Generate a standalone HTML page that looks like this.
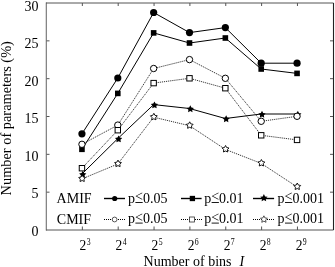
<!DOCTYPE html>
<html><head><meta charset="utf-8"><style>
html,body{margin:0;padding:0;background:#fff;}
body{width:335px;height:267px;overflow:hidden;font-family:"Liberation Serif",serif;}
svg{display:block;will-change:transform;}
</style></head><body>
<svg width="335" height="267" viewBox="0 0 335 267">
<rect width="335" height="267" fill="#fff"/>
<rect x="45" y="2.5" width="1" height="228" fill="#dadada"/><rect x="46" y="2.5" width="1" height="228" fill="#858585"/><line x1="46" y1="3" x2="333.5" y2="3" stroke="#555" stroke-width="1"/><line x1="46" y1="230" x2="333.5" y2="230" stroke="#555" stroke-width="1"/><line x1="333.5" y1="3" x2="333.5" y2="230" stroke="#222" stroke-width="1.1"/><line x1="46.5" y1="192.17" x2="49.5" y2="192.17" stroke="#555" stroke-width="1"/><line x1="330" y1="192.17" x2="333" y2="192.17" stroke="#555" stroke-width="1"/><line x1="46.5" y1="154.34" x2="49.5" y2="154.34" stroke="#555" stroke-width="1"/><line x1="330" y1="154.34" x2="333" y2="154.34" stroke="#555" stroke-width="1"/><line x1="46.5" y1="116.51" x2="49.5" y2="116.51" stroke="#555" stroke-width="1"/><line x1="330" y1="116.51" x2="333" y2="116.51" stroke="#555" stroke-width="1"/><line x1="46.5" y1="78.68" x2="49.5" y2="78.68" stroke="#555" stroke-width="1"/><line x1="330" y1="78.68" x2="333" y2="78.68" stroke="#555" stroke-width="1"/><line x1="46.5" y1="40.85" x2="49.5" y2="40.85" stroke="#555" stroke-width="1"/><line x1="330" y1="40.85" x2="333" y2="40.85" stroke="#555" stroke-width="1"/><line x1="82.35" y1="230" x2="82.35" y2="226.5" stroke="#555" stroke-width="1"/><line x1="82.35" y1="3" x2="82.35" y2="6" stroke="#555" stroke-width="1"/><line x1="118.20" y1="230" x2="118.20" y2="226.5" stroke="#555" stroke-width="1"/><line x1="118.20" y1="3" x2="118.20" y2="6" stroke="#555" stroke-width="1"/><line x1="154.05" y1="230" x2="154.05" y2="226.5" stroke="#555" stroke-width="1"/><line x1="154.05" y1="3" x2="154.05" y2="6" stroke="#555" stroke-width="1"/><line x1="189.90" y1="230" x2="189.90" y2="226.5" stroke="#555" stroke-width="1"/><line x1="189.90" y1="3" x2="189.90" y2="6" stroke="#555" stroke-width="1"/><line x1="225.75" y1="230" x2="225.75" y2="226.5" stroke="#555" stroke-width="1"/><line x1="225.75" y1="3" x2="225.75" y2="6" stroke="#555" stroke-width="1"/><line x1="261.60" y1="230" x2="261.60" y2="226.5" stroke="#555" stroke-width="1"/><line x1="261.60" y1="3" x2="261.60" y2="6" stroke="#555" stroke-width="1"/><line x1="297.45" y1="230" x2="297.45" y2="226.5" stroke="#555" stroke-width="1"/><line x1="297.45" y1="3" x2="297.45" y2="6" stroke="#555" stroke-width="1"/><polyline points="81.95,133.80 117.80,78.00 153.65,12.50 189.50,32.60 225.35,27.60 261.20,63.20 297.05,63.20" fill="none" stroke="#000" stroke-width="1.0"/><circle cx="81.95" cy="133.80" r="3.60" fill="#000"/><circle cx="117.80" cy="78.00" r="3.60" fill="#000"/><circle cx="153.65" cy="12.50" r="3.60" fill="#000"/><circle cx="189.50" cy="32.60" r="3.60" fill="#000"/><circle cx="225.35" cy="27.60" r="3.60" fill="#000"/><circle cx="261.20" cy="63.20" r="3.60" fill="#000"/><circle cx="297.05" cy="63.20" r="3.60" fill="#000"/><polyline points="81.95,149.30 117.80,93.40 153.65,32.90 189.50,43.00 225.35,38.00 261.20,69.00 297.05,73.40" fill="none" stroke="#000" stroke-width="1.0"/><rect x="79.15" y="146.50" width="5.60" height="5.60" fill="#000"/><rect x="115.00" y="90.60" width="5.60" height="5.60" fill="#000"/><rect x="150.85" y="30.10" width="5.60" height="5.60" fill="#000"/><rect x="186.70" y="40.20" width="5.60" height="5.60" fill="#000"/><rect x="222.55" y="35.20" width="5.60" height="5.60" fill="#000"/><rect x="258.40" y="66.20" width="5.60" height="5.60" fill="#000"/><rect x="294.25" y="70.60" width="5.60" height="5.60" fill="#000"/><polyline points="81.95,174.00 117.80,138.60 153.65,104.60 189.50,108.50 225.35,118.50 261.20,114.00 297.05,114.00" fill="none" stroke="#000" stroke-width="1.0"/><polygon points="82.75,170.80 83.90,173.02 86.36,173.43 84.60,175.20 84.98,177.67 82.75,176.55 80.52,177.67 80.90,175.20 79.14,173.43 81.60,173.02" fill="#000"/><polygon points="118.60,135.40 119.75,137.62 122.21,138.03 120.45,139.80 120.83,142.27 118.60,141.15 116.37,142.27 116.75,139.80 114.99,138.03 117.45,137.62" fill="#000"/><polygon points="154.45,101.40 155.60,103.62 158.06,104.03 156.30,105.80 156.68,108.27 154.45,107.15 152.22,108.27 152.60,105.80 150.84,104.03 153.30,103.62" fill="#000"/><polygon points="190.30,105.30 191.45,107.52 193.91,107.93 192.15,109.70 192.53,112.17 190.30,111.05 188.07,112.17 188.45,109.70 186.69,107.93 189.15,107.52" fill="#000"/><polygon points="226.15,115.30 227.30,117.52 229.76,117.93 228.00,119.70 228.38,122.17 226.15,121.05 223.92,122.17 224.30,119.70 222.54,117.93 225.00,117.52" fill="#000"/><polygon points="262.00,110.80 263.15,113.02 265.61,113.43 263.85,115.20 264.23,117.67 262.00,116.55 259.77,117.67 260.15,115.20 258.39,113.43 260.85,113.02" fill="#000"/><polygon points="297.85,110.80 299.00,113.02 301.46,113.43 299.70,115.20 300.08,117.67 297.85,116.55 295.62,117.67 296.00,115.20 294.24,113.43 296.70,113.02" fill="#000"/><polyline points="81.95,144.30 117.80,125.10 153.65,68.50 189.50,59.60 225.35,78.30 261.20,121.30 297.05,116.30" fill="none" stroke="#222" stroke-width="0.9" stroke-dasharray="1.2 0.9"/><circle cx="81.95" cy="144.30" r="3.20" fill="#fff" stroke="#000" stroke-width="1"/><circle cx="117.80" cy="125.10" r="3.20" fill="#fff" stroke="#000" stroke-width="1"/><circle cx="153.65" cy="68.50" r="3.20" fill="#fff" stroke="#000" stroke-width="1"/><circle cx="189.50" cy="59.60" r="3.20" fill="#fff" stroke="#000" stroke-width="1"/><circle cx="225.35" cy="78.30" r="3.20" fill="#fff" stroke="#000" stroke-width="1"/><circle cx="261.20" cy="121.30" r="3.20" fill="#fff" stroke="#000" stroke-width="1"/><circle cx="297.05" cy="116.30" r="3.20" fill="#fff" stroke="#000" stroke-width="1"/><polyline points="81.95,168.20 117.80,130.20 153.65,83.10 189.50,78.30 225.35,88.20 261.20,135.30 297.05,139.90" fill="none" stroke="#222" stroke-width="0.9" stroke-dasharray="1.2 0.9"/><rect x="79.25" y="165.50" width="5.40" height="5.40" fill="#fff" stroke="#000" stroke-width="1"/><rect x="115.10" y="127.50" width="5.40" height="5.40" fill="#fff" stroke="#000" stroke-width="1"/><rect x="150.95" y="80.40" width="5.40" height="5.40" fill="#fff" stroke="#000" stroke-width="1"/><rect x="186.80" y="75.60" width="5.40" height="5.40" fill="#fff" stroke="#000" stroke-width="1"/><rect x="222.65" y="85.50" width="5.40" height="5.40" fill="#fff" stroke="#000" stroke-width="1"/><rect x="258.50" y="132.60" width="5.40" height="5.40" fill="#fff" stroke="#000" stroke-width="1"/><rect x="294.35" y="137.20" width="5.40" height="5.40" fill="#fff" stroke="#000" stroke-width="1"/><polyline points="81.95,178.90 117.80,164.00 153.65,117.20 189.50,125.70 225.35,149.40 261.20,163.40 297.05,186.90" fill="none" stroke="#222" stroke-width="0.9" stroke-dasharray="1.2 0.9"/><polygon points="82.15,175.00 83.27,177.06 85.57,177.49 83.96,179.19 84.27,181.51 82.15,180.50 80.03,181.51 80.34,179.19 78.73,177.49 81.03,177.06" fill="#fff" stroke="#000" stroke-width="0.9"/><polygon points="118.00,160.10 119.12,162.16 121.42,162.59 119.81,164.29 120.12,166.61 118.00,165.60 115.88,166.61 116.19,164.29 114.58,162.59 116.88,162.16" fill="#fff" stroke="#000" stroke-width="0.9"/><polygon points="153.85,113.30 154.97,115.36 157.27,115.79 155.66,117.49 155.97,119.81 153.85,118.80 151.73,119.81 152.04,117.49 150.43,115.79 152.73,115.36" fill="#fff" stroke="#000" stroke-width="0.9"/><polygon points="189.70,121.80 190.82,123.86 193.12,124.29 191.51,125.99 191.82,128.31 189.70,127.30 187.58,128.31 187.89,125.99 186.28,124.29 188.58,123.86" fill="#fff" stroke="#000" stroke-width="0.9"/><polygon points="225.55,145.50 226.67,147.56 228.97,147.99 227.36,149.69 227.67,152.01 225.55,151.00 223.43,152.01 223.74,149.69 222.13,147.99 224.43,147.56" fill="#fff" stroke="#000" stroke-width="0.9"/><polygon points="261.40,159.50 262.52,161.56 264.82,161.99 263.21,163.69 263.52,166.01 261.40,165.00 259.28,166.01 259.59,163.69 257.98,161.99 260.28,161.56" fill="#fff" stroke="#000" stroke-width="0.9"/><polygon points="297.25,183.00 298.37,185.06 300.67,185.49 299.06,187.19 299.37,189.51 297.25,188.50 295.13,189.51 295.44,187.19 293.83,185.49 296.13,185.06" fill="#fff" stroke="#000" stroke-width="0.9"/><line x1="104" y1="198.5" x2="125" y2="198.5" stroke="#000" stroke-width="1.4"/><circle cx="114.70" cy="198.50" r="2.6" fill="#000"/><line x1="181" y1="198.5" x2="201.6" y2="198.5" stroke="#000" stroke-width="1.4"/><rect x="189.75" y="195.85" width="5.30" height="5.30" fill="#000"/><line x1="253" y1="198.5" x2="274.1" y2="198.5" stroke="#000" stroke-width="1.4"/><polygon points="263.90,194.10 265.05,196.42 267.61,196.79 265.75,198.60 266.19,201.16 263.90,199.95 261.61,201.16 262.05,198.60 260.19,196.79 262.75,196.42" fill="#000"/><line x1="104" y1="219.5" x2="125" y2="219.5" stroke="#000" stroke-width="1" stroke-dasharray="1 1"/><circle cx="114.60" cy="219.50" r="2.4" fill="#fff" stroke="#222" stroke-width="0.75"/><line x1="181" y1="219.5" x2="202" y2="219.5" stroke="#000" stroke-width="1" stroke-dasharray="1 1"/><rect x="189.40" y="217.00" width="5.00" height="5.00" fill="#fff" stroke="#222" stroke-width="0.75"/><line x1="253" y1="219.5" x2="274" y2="219.5" stroke="#000" stroke-width="1" stroke-dasharray="1 1"/><polygon points="263.90,215.80 264.96,217.94 267.32,218.29 265.61,219.96 266.02,222.31 263.90,221.20 261.78,222.31 262.19,219.96 260.48,218.29 262.84,217.94" fill="#fff" stroke="#222" stroke-width="0.75"/><line x1="135.40" y1="202.50" x2="142.70" y2="202.50" stroke="#000" stroke-width="0.9"/><line x1="135.40" y1="223.10" x2="142.70" y2="223.10" stroke="#000" stroke-width="0.9"/><line x1="211.60" y1="202.50" x2="218.90" y2="202.50" stroke="#000" stroke-width="0.9"/><line x1="211.60" y1="223.10" x2="218.90" y2="223.10" stroke="#000" stroke-width="0.9"/><line x1="285.00" y1="202.50" x2="292.30" y2="202.50" stroke="#000" stroke-width="0.9"/><line x1="285.00" y1="223.10" x2="292.30" y2="223.10" stroke="#000" stroke-width="0.9"/>
<g fill="#000"><text x="38.4" y="11.20" text-anchor="end" font-family="Liberation Serif" font-size="14">30</text><text x="38.4" y="48.20" text-anchor="end" font-family="Liberation Serif" font-size="14">25</text><text x="38.4" y="85.90" text-anchor="end" font-family="Liberation Serif" font-size="14">20</text><text x="38.4" y="123.40" text-anchor="end" font-family="Liberation Serif" font-size="14">15</text><text x="38.4" y="160.90" text-anchor="end" font-family="Liberation Serif" font-size="14">10</text><text x="38.4" y="198.40" text-anchor="end" font-family="Liberation Serif" font-size="14">5</text><text x="38.4" y="235.90" text-anchor="end" font-family="Liberation Serif" font-size="14">0</text><text transform="translate(79.55,250) scale(1,1.13)" font-family="Liberation Serif" font-size="13.5">2</text><text transform="translate(86.65,244.6) scale(0.82,1.13)" font-family="Liberation Serif" font-size="9.5">3</text><text transform="translate(115.58,250) scale(1,1.13)" font-family="Liberation Serif" font-size="13.5">2</text><text transform="translate(122.68,244.6) scale(0.82,1.13)" font-family="Liberation Serif" font-size="9.5">4</text><text transform="translate(151.61,250) scale(1,1.13)" font-family="Liberation Serif" font-size="13.5">2</text><text transform="translate(158.71,244.6) scale(0.82,1.13)" font-family="Liberation Serif" font-size="9.5">5</text><text transform="translate(187.64,250) scale(1,1.13)" font-family="Liberation Serif" font-size="13.5">2</text><text transform="translate(194.74,244.6) scale(0.82,1.13)" font-family="Liberation Serif" font-size="9.5">6</text><text transform="translate(223.67,250) scale(1,1.13)" font-family="Liberation Serif" font-size="13.5">2</text><text transform="translate(230.77,244.6) scale(0.82,1.13)" font-family="Liberation Serif" font-size="9.5">7</text><text transform="translate(259.70,250) scale(1,1.13)" font-family="Liberation Serif" font-size="13.5">2</text><text transform="translate(266.80,244.6) scale(0.82,1.13)" font-family="Liberation Serif" font-size="9.5">8</text><text transform="translate(295.73,250) scale(1,1.13)" font-family="Liberation Serif" font-size="13.5">2</text><text transform="translate(302.83,244.6) scale(0.82,1.13)" font-family="Liberation Serif" font-size="9.5">9</text><text x="143.6" y="266" font-family="Liberation Serif" font-size="14">Number of bins</text><text x="239.4" y="266.2" font-style="italic" font-family="Liberation Serif" font-size="14">I</text><text transform="translate(10.9,195.4) rotate(-90)" font-family="Liberation Serif" font-size="14.36">Number of parameters (%)</text><text x="56.6" y="203.4" font-family="Liberation Serif" font-size="14">AMIF</text><text x="56.8" y="224.1" font-family="Liberation Serif" font-size="14">CMIF</text><text x="128.0" y="202.7" font-family="Liberation Serif" font-size="14">p<tspan dy="-1.4">&lt;</tspan><tspan dy="1.4">0.05</tspan></text><text x="128.0" y="223.3" font-family="Liberation Serif" font-size="14">p<tspan dy="-1.4">&lt;</tspan><tspan dy="1.4">0.05</tspan></text><text x="204.2" y="202.7" font-family="Liberation Serif" font-size="14">p<tspan dy="-1.4">&lt;</tspan><tspan dy="1.4">0.01</tspan></text><text x="204.2" y="223.3" font-family="Liberation Serif" font-size="14">p<tspan dy="-1.4">&lt;</tspan><tspan dy="1.4">0.01</tspan></text><text x="277.6" y="202.7" font-family="Liberation Serif" font-size="14">p<tspan dy="-1.4">&lt;</tspan><tspan dy="1.4">0.001</tspan></text><text x="277.6" y="223.3" font-family="Liberation Serif" font-size="14">p<tspan dy="-1.4">&lt;</tspan><tspan dy="1.4">0.001</tspan></text></g>
</svg>
</body></html>
